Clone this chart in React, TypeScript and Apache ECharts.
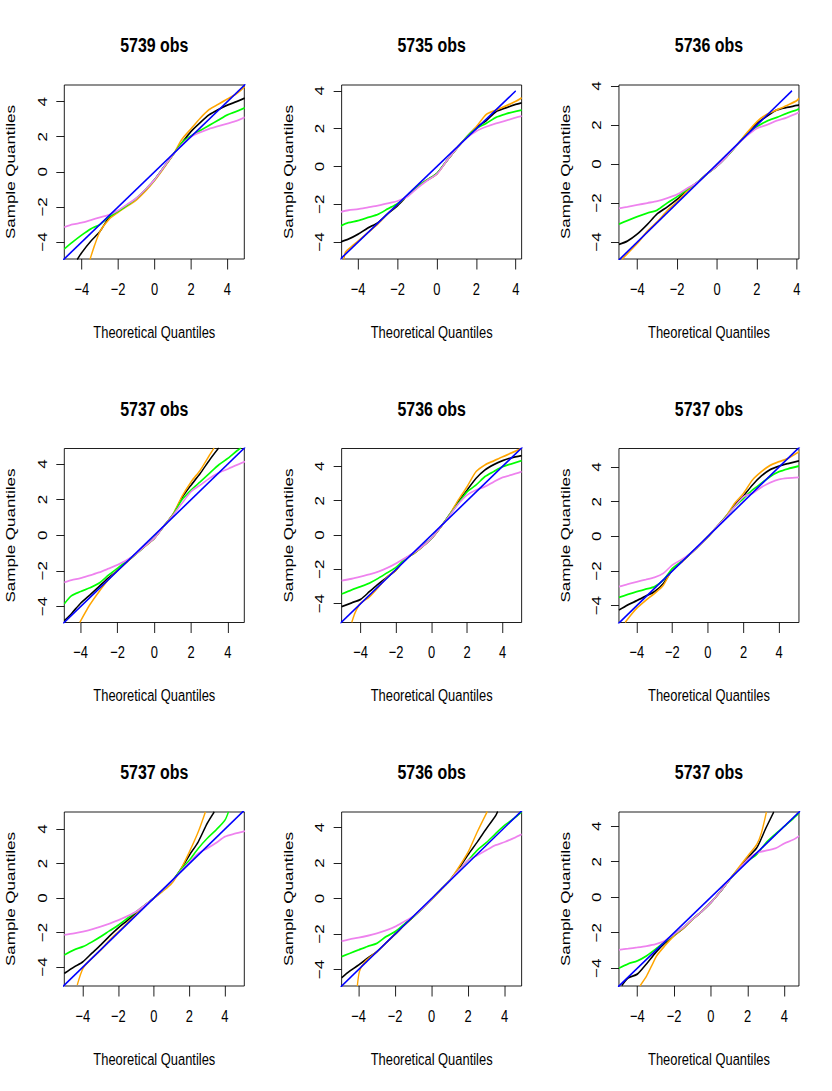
import React, { useEffect, useRef } from 'react';
import * as echarts from 'echarts';

// ---------- data ----------
const TITLES = ['5739 obs', '5735 obs', '5736 obs', '5737 obs', '5736 obs', '5737 obs', '5737 obs', '5736 obs', '5737 obs'];
const TICKS = [-4, -2, 0, 2, 4];
const X_LABEL = 'Theoretical Quantiles';
const Y_LABEL = 'Sample Quantiles';

// axis limits of each panel [min, max]
const X_LIMITS = [[-4.96, 4.93], [-4.84, 4.3], [-4.92, 4.11], [-4.89, 4.89], [-5.07, 5.07], [-5.0, 5.12], [-5.05, 5.09], [-4.93, 4.93], [-5.0, 4.79]];
const Y_LIMITS = [[-4.97, 4.95], [-4.9, 4.31], [-4.87, 4.05], [-4.9, 4.87], [-5.1, 5.04], [-4.97, 5.07], [-5.1, 4.99], [-4.93, 4.87], [-5.0, 4.8]];
// reference line y = x, drawn from / to these x values
const REF_LINE = [[-5.2, 5.2], [-5.0, 4.0], [-5.0, 3.76], [-5.2, 5.2], [-5.2, 5.2], [-5.2, 5.2], [-5.2, 5.2], [-5.2, 5.2], [-5.2, 5.2]];

const p1Black = [[-4.25, -5.0], [-4, -4.6], [-3.5, -3.95], [-3, -3.4], [-2.5, -2.6], [-2, -2.25], [-1.5, -1.9], [-1, -1.55], [-0.5, -1.05], [0, -0.45], [0.5, 0.25], [1, 0.95], [1.5, 1.65], [2, 2.3], [2.5, 2.8], [3, 3.25], [3.5, 3.55], [4, 3.8], [4.5, 4.0], [4.95, 4.2]];
const p1Orange = [[-3.55, -5.0], [-3.3, -4.2], [-3, -3.4], [-2.5, -2.7], [-2, -2.3], [-1.5, -1.95], [-1, -1.6], [-0.5, -1.1], [0, -0.5], [0.5, 0.2], [1, 0.95], [1.5, 1.85], [2, 2.45], [2.5, 3.05], [3, 3.55], [3.5, 3.85], [4, 4.15], [4.5, 4.45], [4.95, 4.85]];
const p1Green = [[-4.96, -4.4], [-4.5, -4.0], [-4, -3.6], [-3.5, -3.25], [-3, -3.0], [-2.5, -2.55], [-2, -2.25], [-1.5, -1.9], [-1, -1.5], [-0.5, -1.0], [0, -0.45], [0.5, 0.25], [1, 0.95], [1.5, 1.65], [2, 2.05], [2.5, 2.35], [3, 2.65], [3.5, 2.95], [4, 3.25], [4.5, 3.45], [4.95, 3.65]];
const p1Violet = [[-4.96, -3.15], [-4.5, -3.0], [-4, -2.9], [-3.5, -2.75], [-3, -2.6], [-2.5, -2.45], [-2, -2.2], [-1.5, -1.85], [-1, -1.5], [-0.5, -1.0], [0, -0.45], [0.5, 0.25], [1, 0.95], [1.5, 1.55], [2, 2.0], [2.5, 2.25], [3, 2.45], [3.5, 2.6], [4, 2.75], [4.5, 2.9], [4.95, 3.1]];

const p2Black = [[-4.88, -3.99], [-4.5, -3.85], [-4, -3.58], [-3.5, -3.25], [-3, -2.98], [-2.5, -2.5], [-2, -2.08], [-1.5, -1.55], [-1, -1.08], [-0.5, -0.72], [0, -0.37], [0.5, 0.3], [1, 0.95], [1.5, 1.55], [2, 2.06], [2.5, 2.42], [3, 2.9], [3.5, 3.1], [4, 3.28], [4.3, 3.37]];
const p2Orange = [[-4.72, -4.92], [-4.65, -4.55], [-4.4, -4.3], [-4, -3.95], [-3.5, -3.5], [-3, -3.05], [-2.5, -2.5], [-2, -2.0], [-1.5, -1.55], [-1, -1.08], [-0.5, -0.72], [0, -0.4], [0.5, 0.3], [1, 0.95], [1.5, 1.55], [2, 2.1], [2.5, 2.75], [3, 2.98], [3.5, 3.2], [4, 3.45], [4.3, 3.63]];
const p2Green = [[-4.88, -3.15], [-4.5, -2.98], [-4, -2.87], [-3.5, -2.7], [-3, -2.54], [-2.5, -2.25], [-2, -1.96], [-1.5, -1.55], [-1, -1.08], [-0.5, -0.72], [0, -0.37], [0.5, 0.3], [1, 0.95], [1.5, 1.55], [2, 2.0], [2.5, 2.28], [3, 2.6], [3.5, 2.78], [4, 2.92], [4.3, 2.98]];
const p2Violet = [[-4.88, -2.4], [-4.5, -2.32], [-4, -2.26], [-3.5, -2.17], [-3, -2.08], [-2.5, -1.95], [-2, -1.83], [-1.5, -1.6], [-1, -1.15], [-0.5, -0.75], [0, -0.4], [0.5, 0.3], [1, 0.95], [1.5, 1.5], [2, 1.87], [2.5, 2.1], [3, 2.28], [3.5, 2.42], [4, 2.58], [4.3, 2.66]];

const p3Black = [[-4.92, -4.12], [-4.5, -3.95], [-4, -3.59], [-3.5, -3.1], [-3, -2.55], [-2.5, -2.2], [-2, -1.81], [-1.5, -1.35], [-1, -0.95], [-0.5, -0.5], [0, -0.1], [0.5, 0.4], [1, 0.97], [1.5, 1.55], [2, 2.08], [2.5, 2.45], [3, 2.77], [3.5, 2.9], [4, 3.0], [4.11, 3.03]];
const p3Orange = [[-4.78, -4.89], [-4.5, -4.6], [-4, -4.07], [-3.5, -3.45], [-3, -2.96], [-2.5, -2.4], [-2, -1.93], [-1.5, -1.4], [-1, -0.97], [-0.5, -0.5], [0, -0.08], [0.5, 0.42], [1, 0.98], [1.5, 1.6], [2, 2.17], [2.5, 2.55], [3, 2.77], [3.5, 3.0], [4, 3.25], [4.11, 3.37]];
const p3Green = [[-4.92, -3.08], [-4.5, -2.9], [-4, -2.7], [-3.5, -2.52], [-3, -2.36], [-2.5, -2.0], [-2, -1.68], [-1.5, -1.3], [-1, -0.95], [-0.5, -0.5], [0, -0.1], [0.5, 0.4], [1, 0.97], [1.5, 1.5], [2, 1.91], [2.5, 2.2], [3, 2.39], [3.5, 2.6], [4, 2.78], [4.11, 2.82]];
const p3Violet = [[-4.92, -2.27], [-4.5, -2.2], [-4, -2.1], [-3.5, -2.0], [-3, -1.9], [-2.5, -1.75], [-2, -1.56], [-1.5, -1.25], [-1, -0.95], [-0.5, -0.5], [0, -0.1], [0.5, 0.4], [1, 0.97], [1.5, 1.45], [2, 1.83], [2.5, 2.0], [3, 2.22], [3.5, 2.38], [4, 2.6], [4.11, 2.63]];

const p4Black = [[-4.89, -4.8], [-4.5, -4.4], [-4, -3.81], [-3.5, -3.35], [-3, -2.88], [-2.5, -2.4], [-2, -1.98], [-1.5, -1.5], [-1, -1.05], [-0.5, -0.6], [0, -0.17], [0.5, 0.49], [1, 1.14], [1.5, 2.1], [2, 2.82], [2.5, 3.48], [3, 4.22], [3.5, 4.9]];
const p4Orange = [[-4.05, -4.9], [-3.5, -3.9], [-3, -3.16], [-2.5, -2.5], [-2, -1.98], [-1.5, -1.5], [-1, -1.05], [-0.5, -0.62], [0, -0.17], [0.5, 0.49], [1, 1.14], [1.5, 2.17], [2, 3.0], [2.5, 3.66], [3, 4.5], [3.25, 4.9]];
const p4Green = [[-4.89, -3.85], [-4.5, -3.4], [-4, -3.16], [-3.5, -2.95], [-3, -2.69], [-2.5, -2.25], [-2, -1.85], [-1.5, -1.45], [-1, -1.05], [-0.5, -0.6], [0, -0.17], [0.5, 0.49], [1, 1.12], [1.5, 1.98], [2, 2.54], [2.5, 3.0], [3, 3.48], [3.5, 3.95], [4, 4.32], [4.5, 4.75], [4.7, 4.9]];
const p4Violet = [[-4.89, -2.65], [-4.5, -2.52], [-4, -2.41], [-3.5, -2.25], [-3, -2.09], [-2.5, -1.88], [-2, -1.66], [-1.5, -1.4], [-1, -1.05], [-0.5, -0.6], [0, -0.17], [0.5, 0.49], [1, 1.1], [1.5, 1.79], [2, 2.45], [2.5, 2.82], [3, 3.2], [3.5, 3.5], [4, 3.72], [4.5, 3.95], [4.93, 4.13]];

const p5Black = [[-5.07, -4.17], [-4.5, -3.95], [-4, -3.75], [-3.5, -3.3], [-3, -2.85], [-2.5, -2.45], [-2, -2.04], [-1.5, -1.4], [-1, -1.07], [-0.5, -0.65], [0, -0.19], [0.5, 0.45], [1, 1.17], [1.5, 1.94], [2, 2.62], [2.5, 3.3], [3, 3.79], [3.5, 4.1], [4, 4.33], [4.5, 4.5], [5.07, 4.62]];
const p5Orange = [[-4.5, -5.09], [-4.3, -4.5], [-4, -3.98], [-3.5, -3.6], [-3, -3.05], [-2.5, -2.45], [-2, -2.04], [-1.5, -1.42], [-1, -1.07], [-0.5, -0.67], [0, -0.2], [0.5, 0.45], [1, 1.17], [1.5, 2.04], [2, 2.82], [2.5, 3.69], [3, 4.08], [3.5, 4.32], [4, 4.56], [4.5, 4.78], [5.07, 5.05]];
const p5Green = [[-5.07, -3.44], [-4.5, -3.2], [-4, -3.01], [-3.5, -2.8], [-3, -2.52], [-2.5, -2.2], [-2, -1.88], [-1.5, -1.4], [-1, -1.05], [-0.5, -0.65], [0, -0.19], [0.5, 0.45], [1, 1.15], [1.5, 1.84], [2, 2.52], [2.5, 2.91], [3, 3.4], [3.5, 3.7], [4, 3.98], [4.5, 4.15], [5.07, 4.33]];
const p5Violet = [[-5.07, -2.66], [-4.5, -2.55], [-4, -2.43], [-3.5, -2.3], [-3, -2.14], [-2.5, -1.92], [-2, -1.65], [-1.5, -1.35], [-1, -1.03], [-0.5, -0.65], [0, -0.19], [0.5, 0.45], [1, 1.12], [1.5, 1.8], [2, 2.33], [2.5, 2.62], [3, 2.82], [3.5, 3.1], [4, 3.36], [4.5, 3.5], [5.07, 3.69]];

const p6Black = [[-5.0, -4.25], [-4.5, -3.95], [-4, -3.71], [-3.5, -3.45], [-3, -3.19], [-2.5, -2.71], [-2, -1.94], [-1.5, -1.5], [-1, -1.02], [-0.5, -0.55], [0, -0.02], [0.5, 0.55], [1, 1.13], [1.5, 1.8], [2, 2.33], [2.5, 2.96], [3, 3.48], [3.5, 3.85], [4, 4.06], [4.5, 4.2], [5.12, 4.35]];
const p6Orange = [[-4.65, -4.96], [-4.3, -4.5], [-4, -4.15], [-3.5, -3.7], [-3, -3.29], [-2.5, -2.81], [-2, -1.9], [-1.5, -1.5], [-1, -1.02], [-0.5, -0.55], [0, -0.02], [0.5, 0.55], [1, 1.13], [1.5, 1.9], [2, 2.48], [2.5, 3.25], [3, 3.73], [3.5, 4.1], [4, 4.31], [4.5, 4.5], [5.12, 4.88]];
const p6Green = [[-5.0, -3.52], [-4.5, -3.35], [-4, -3.19], [-3.5, -3.05], [-3, -2.9], [-2.5, -2.52], [-2, -1.85], [-1.5, -1.45], [-1, -1.0], [-0.5, -0.55], [0, -0.02], [0.5, 0.55], [1, 1.1], [1.5, 1.71], [2, 2.19], [2.5, 2.67], [3, 3.06], [3.5, 3.45], [4, 3.73], [4.5, 3.9], [5.12, 4.06]];
const p6Violet = [[-5.0, -2.9], [-4.5, -2.75], [-4, -2.62], [-3.5, -2.5], [-3, -2.37], [-2.5, -2.13], [-2, -1.65], [-1.5, -1.35], [-1, -1.0], [-0.5, -0.55], [0, -0.02], [0.5, 0.55], [1, 1.08], [1.5, 1.71], [2, 2.29], [2.5, 2.48], [3, 2.83], [3.5, 3.1], [4, 3.29], [4.5, 3.36], [5.12, 3.4]];

const p7Black = [[-5.05, -4.37], [-4.5, -4.0], [-4, -3.69], [-3.5, -3.2], [-3, -2.72], [-2.5, -2.2], [-2, -1.72], [-1.5, -1.3], [-1, -0.85], [-0.5, -0.42], [0, 0], [0.5, 0.47], [1, 0.95], [1.5, 1.65], [2, 2.49], [2.5, 3.27], [3, 4.33], [3.4, 5.0]];
const p7Orange = [[-4.32, -5.04], [-4, -4.08], [-3.5, -3.5], [-3, -3.01], [-2.5, -2.45], [-2, -1.95], [-1.5, -1.45], [-1, -0.95], [-0.5, -0.45], [0, 0], [0.5, 0.4], [1, 0.85], [1.5, 1.65], [2, 2.69], [2.5, 3.85], [2.9, 5.0]];
const p7Green = [[-5.05, -3.3], [-4.5, -3.0], [-4, -2.82], [-3.5, -2.55], [-3, -2.24], [-2.5, -1.9], [-2, -1.57], [-1.5, -1.18], [-1, -0.79], [-0.5, -0.4], [0, 0], [0.5, 0.47], [1, 0.95], [1.5, 1.62], [2, 2.2], [2.5, 2.88], [3, 3.46], [3.5, 3.95], [4, 4.52], [4.2, 5.0]];
const p7Violet = [[-5.05, -2.14], [-4.5, -2.05], [-4, -1.95], [-3.5, -1.82], [-3, -1.66], [-2.5, -1.48], [-2, -1.28], [-1.5, -1.05], [-1, -0.79], [-0.5, -0.4], [0, 0], [0.5, 0.47], [1, 0.95], [1.5, 1.55], [2, 2.07], [2.5, 2.59], [3, 2.88], [3.5, 3.2], [4, 3.56], [4.5, 3.72], [5.13, 3.88]];

const p8Black = [[-4.93, -4.46], [-4.5, -4.1], [-4, -3.75], [-3.5, -3.35], [-3, -3.0], [-2.5, -2.5], [-2, -2.02], [-1.5, -1.5], [-1, -1.03], [-0.5, -0.55], [0, -0.04], [0.5, 0.5], [1, 1.03], [1.5, 1.69], [2, 2.47], [2.5, 3.18], [3, 3.93], [3.5, 4.65], [3.62, 4.9]];
const p8Orange = [[-4.07, -4.93], [-3.95, -4.1], [-3.65, -3.56], [-3, -3.0], [-2.5, -2.5], [-2, -2.0], [-1.5, -1.5], [-1, -1.03], [-0.5, -0.55], [0, -0.06], [0.5, 0.48], [1, 1.03], [1.5, 1.78], [2, 2.62], [2.5, 3.75], [3.05, 4.9]];
const p8Green = [[-4.93, -3.28], [-4.5, -3.1], [-4, -2.9], [-3.5, -2.7], [-3, -2.53], [-2.5, -2.15], [-2, -1.87], [-1.5, -1.45], [-1, -1.03], [-0.5, -0.55], [0, -0.04], [0.5, 0.5], [1, 1.03], [1.5, 1.6], [2, 2.15], [2.5, 2.72], [3, 3.15], [3.5, 3.65], [4, 4.12], [4.5, 4.5], [4.93, 4.87]];
const p8Violet = [[-4.93, -2.4], [-4.5, -2.3], [-4, -2.21], [-3.5, -2.1], [-3, -1.97], [-2.5, -1.8], [-2, -1.59], [-1.5, -1.3], [-1, -1.0], [-0.5, -0.55], [0, -0.04], [0.5, 0.5], [1, 1.03], [1.5, 1.6], [2, 2.15], [2.5, 2.43], [3, 2.72], [3.5, 3.0], [4, 3.18], [4.5, 3.4], [4.93, 3.61]];

const p9Black = [[-4.85, -4.98], [-4.5, -4.55], [-4, -4.33], [-3.5, -3.75], [-3, -3.11], [-2.5, -2.58], [-2, -2.15], [-1.5, -1.75], [-1, -1.24], [-0.5, -0.8], [0, -0.3], [0.5, 0.3], [1, 0.97], [1.5, 1.6], [2, 2.23], [2.5, 2.79], [3, 3.91], [3.42, 4.8]];
const p9Orange = [[-3.86, -5.0], [-3.49, -4.42], [-3.22, -3.86], [-2.95, -3.3], [-2.5, -2.73], [-2, -2.17], [-1.5, -1.75], [-1, -1.25], [-0.5, -0.8], [0, -0.3], [0.5, 0.3], [1, 0.97], [1.5, 1.65], [2, 2.32], [2.5, 2.98], [2.75, 3.63], [3.02, 4.8]];
const p9Green = [[-5.0, -4.0], [-4.5, -3.75], [-4, -3.58], [-3.5, -3.3], [-3, -2.92], [-2.5, -2.5], [-2, -2.1], [-1.5, -1.7], [-1, -1.24], [-0.5, -0.8], [0, -0.3], [0.5, 0.3], [1, 0.97], [1.5, 1.55], [2, 2.04], [2.5, 2.42], [3, 3.07], [3.5, 3.55], [4, 4.0], [4.5, 4.45], [4.8, 4.74]];
const p9Violet = [[-5.0, -2.96], [-4.5, -2.9], [-4, -2.83], [-3.5, -2.75], [-3, -2.64], [-2.5, -2.45], [-2, -2.08], [-1.5, -1.7], [-1, -1.24], [-0.5, -0.8], [0, -0.3], [0.5, 0.3], [1, 0.97], [1.5, 1.55], [2, 2.13], [2.5, 2.5], [3, 2.62], [3.5, 2.75], [4, 3.03], [4.5, 3.25], [4.8, 3.45]];

const BLACK = [p1Black, p2Black, p3Black, p4Black, p5Black, p6Black, p7Black, p8Black, p9Black];
const ORANGE = [p1Orange, p2Orange, p3Orange, p4Orange, p5Orange, p6Orange, p7Orange, p8Orange, p9Orange];
const GREEN = [p1Green, p2Green, p3Green, p4Green, p5Green, p6Green, p7Green, p8Green, p9Green];
const VIOLET = [p1Violet, p2Violet, p3Violet, p4Violet, p5Violet, p6Violet, p7Violet, p8Violet, p9Violet];

// ---------- style / layout ----------
// the whole figure is drawn wider and squeezed horizontally, like the original
const SX = 0.76;
const PAGE_W = 832;
const PAGE_H = 1091;
const FONT = '"Liberation Sans", Arial, Helvetica, sans-serif';
const GRID_LEFT0 = 64.3 / SX;
const COL_STEP = 277.33 / SX;
const GRID_TOP0 = 85;
const ROW_STEP = 363.5;
const GRID_W = 180 / SX;
const GRID_H = 174;
const TICK_LEN = 10.5;

const fmt = (v: number) => (v < 0 ? '\u2212' + Math.abs(v) : String(v));

function buildOption() {
  const grid: any[] = [];
  const xAxis: any[] = [];
  const yAxis: any[] = [];
  const series: any[] = [];
  const graphic: any[] = [];
  for (let i = 0; i < 9; i++) {
    const r = Math.floor(i / 3);
    const c = i % 3;
    const left = GRID_LEFT0 + c * COL_STEP;
    const top = GRID_TOP0 + r * ROW_STEP;
    grid.push({
      left, top, width: GRID_W, height: GRID_H,
      show: true, borderColor: '#000', borderWidth: 1, backgroundColor: 'transparent',
      containLabel: false, outerBoundsMode: 'none',
    });
    xAxis.push({
      gridIndex: i, type: 'value', min: X_LIMITS[i][0], max: X_LIMITS[i][1],
      axisLine: { show: false, onZero: false }, splitLine: { show: false },
      axisTick: { show: true, inside: false, length: TICK_LEN, customValues: TICKS, lineStyle: { color: '#000', width: 1 } },
      axisLabel: { show: true, customValues: TICKS, formatter: fmt, color: '#000', fontSize: 17, fontFamily: FONT, margin: 21 },
      name: X_LABEL, nameLocation: 'middle', nameGap: 64,
      nameTextStyle: { color: '#000', fontSize: 17, fontFamily: FONT },
    });
    yAxis.push({
      gridIndex: i, type: 'value', min: Y_LIMITS[i][0], max: Y_LIMITS[i][1],
      axisLine: { show: false, onZero: false }, splitLine: { show: false },
      axisTick: { show: true, inside: false, length: TICK_LEN, customValues: TICKS, lineStyle: { color: '#000', width: 1 } },
      axisLabel: { show: true, customValues: TICKS, formatter: fmt, rotate: 90, color: '#000', fontSize: 17, fontFamily: FONT, margin: 21 },
      name: Y_LABEL, nameLocation: 'middle', nameGap: 62, nameRotate: 90,
      nameTextStyle: { color: '#000', fontSize: 17, fontFamily: FONT },
    });
    const mk = (data: number[][], color: string, name: string) => ({
      type: 'line', name, xAxisIndex: i, yAxisIndex: i, data,
      symbol: 'none', showSymbol: false, smooth: 0.25, clip: true, silent: true,
      lineStyle: { color, width: 1.8 },
    });
    series.push(mk(BLACK[i], '#000000', 'black'));
    series.push(mk(ORANGE[i], '#FFA500', 'orange'));
    series.push(mk(GREEN[i], '#00FF00', 'green'));
    series.push(mk(VIOLET[i], '#EE82EE', 'violet'));
    const [a, b] = REF_LINE[i];
    series.push({
      type: 'line', name: 'reference', xAxisIndex: i, yAxisIndex: i, data: [[a, a], [b, b]],
      symbol: 'none', showSymbol: false, clip: true, silent: true,
      lineStyle: { color: '#0000FF', width: 1.8 },
    });
    graphic.push({
      type: 'text', x: left + GRID_W / 2, y: 45 + r * ROW_STEP, silent: true,
      style: { text: TITLES[i], fill: '#000', font: 'bold 21px ' + FONT, textAlign: 'center', textVerticalAlign: 'middle' },
    });
  }
  return { animation: false, backgroundColor: '#ffffff', grid, xAxis, yAxis, series, graphic, tooltip: { show: false } };
}

export default function App() {
  const ref = useRef<HTMLDivElement>(null);
  useEffect(() => {
    if (!ref.current) return;
    const chart = echarts.init(ref.current, undefined, { renderer: 'svg' });
    chart.setOption(buildOption() as any);
    return () => chart.dispose();
  }, []);
  return (
    <div style={{ position: 'absolute', left: 0, top: 0, width: PAGE_W, height: PAGE_H, overflow: 'hidden', background: '#fff' }}>
      <div
        ref={ref}
        style={{ width: PAGE_W / SX, height: PAGE_H, transform: `scaleX(${SX})`, transformOrigin: '0 0' }}
      />
    </div>
  );
}
